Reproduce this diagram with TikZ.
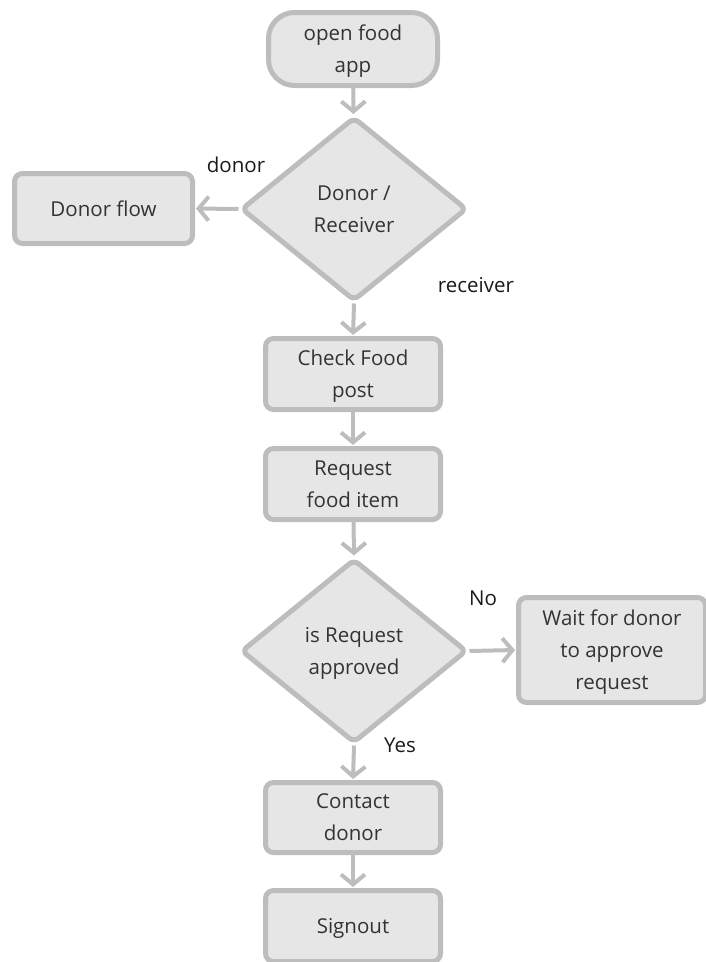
\documentclass[tikz,border=0pt]{standalone}
\usepackage{fontspec}
\setmainfont{Open Sans}
\usetikzlibrary{shapes.geometric,arrows.meta}
\definecolor{boxfill}{HTML}{E6E6E6}
\definecolor{boxline}{HTML}{BDBDBD}
\definecolor{txt}{HTML}{333333}
\definecolor{lbl}{HTML}{1A1A1A}
\begin{document}
\begin{tikzpicture}[x=1pt,y=-1pt,
  every node/.style={font=\fontsize{20.5}{32}\selectfont, text=txt},
  box/.style={draw=boxline, fill=boxfill, line width=5pt, rounded corners=8pt,
    align=center, inner sep=0pt, text depth=-2.5pt},
  dec/.style={diamond, draw=boxline, fill=boxfill, line width=5pt, rounded corners=6pt,
    align=center, inner sep=0pt, text depth=-2.5pt},
  lab/.style={text=lbl, inner sep=0pt},
  conn/.style={draw=boxline, line width=4pt,
    -{Straight Barb[length=10pt,width=24pt]}, shorten >=1pt}
]
\useasboundingbox (0,0) rectangle (705,962);
\node[box, rounded corners=26pt, minimum width=169pt, minimum height=73pt] (app) at (353,49) {open food\\app};
\node[dec, minimum width=226pt, minimum height=184pt] (dr) at (354,209) {Donor /\\Receiver};
\node[box, minimum width=178pt, minimum height=70pt] (donor) at (103.5,208.5) {Donor flow};
\node[box, minimum width=175pt, minimum height=71pt] (check) at (353,374) {Check Food\\post};
\node[box, minimum width=175pt, minimum height=71pt] (req) at (353,484) {Request\\food item};
\node[dec, minimum width=226pt, minimum height=184pt] (appr) at (354,651) {is Request\\approved};
\node[box, minimum width=187pt, minimum height=105pt] (wait) at (612,650) {Wait for donor\\to approve\\request};
\node[box, minimum width=175pt, minimum height=70pt] (contact) at (353,817.5) {Contact\\donor};
\node[box, minimum width=175pt, minimum height=71pt] (sign) at (353,926) {Signout};

\node[lab] (ldonor) at (236,165) {donor};
\node[lab] (lrec) at (476,285) {receiver};
\node[lab] (lno) at (483,598) {No};
\node[lab] (lyes) at (400,745) {Yes};

\draw[conn] (app) -- (dr);
\draw[conn] (dr.west) -- (donor.east);
\draw[conn] (dr.south) -- (check.north);
\draw[conn] (check) -- (req);
\draw[conn] (req) -- (appr.north);
\draw[conn] (appr.east) -- (wait.west);
\draw[conn] (appr.south) -- (contact.north);
\draw[conn] (contact) -- (sign);
\end{tikzpicture}
\end{document}
